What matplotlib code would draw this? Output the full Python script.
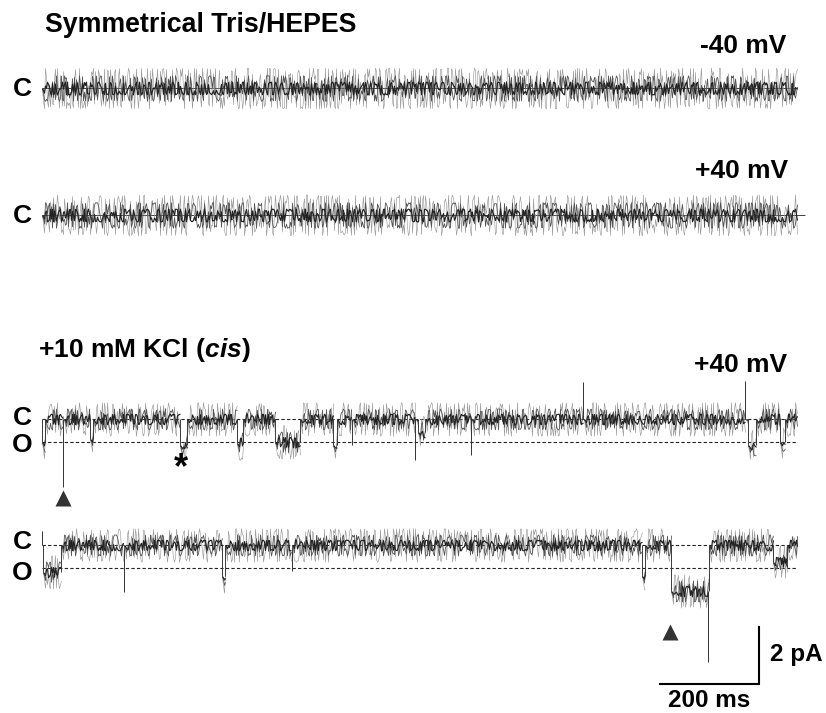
import matplotlib.pyplot as plt

plt.rcParams['font.family'] = ['Liberation Sans', 'DejaVu Sans']
plt.rcParams['font.weight'] = 'bold'
plt.rcParams['mathtext.fontset'] = 'custom'
plt.rcParams['mathtext.rm'] = 'Liberation Sans:bold'
plt.rcParams['mathtext.bfit'] = 'Liberation Sans:italic:bold'

# sweep length (ms), open level (pA below closed)
sweep_ms = 1525
open_pA = -0.82

# +10 mM KCl, first sweep: event start / end (ms) and level (pA, relative to C)
kcl1_start = [0, 42, 97, 279, 394, 471, 588, 625, 753, 760, 866, 1092, 1420, 1426, 1490]
kcl1_end = [6, 44, 103, 293, 406, 521, 596, 628, 755, 774, 868, 1094, 1422, 1442, 1501]
kcl1_level = [-0.8, -2.4, -0.7, -0.9, -0.85, -0.8, -0.9, -0.9, -1.45, -0.45, -1.25, 1.3, 1.35, -0.9, -0.8]

# +10 mM KCl, second sweep
kcl2_start = [0, 2, 164, 364, 504, 1212, 1271, 1345, 1477]
kcl2_end = [2, 38, 166, 370, 506, 1218, 1345, 1347, 1505]
kcl2_level = [0.5, -0.95, -1.65, -1.1, -0.9, -1.1, -1.6, -4.1, -0.6]

# scale bar
bar_ms = 200
bar_pA = 2

PX_MS = 0.495   # pixels per ms
PX_PA = 28.5    # pixels per pA
W, H = 826, 713

fig = plt.figure(figsize=(W / 100, H / 100), dpi=100)
ax = fig.add_axes([0, 0, 1, 1])
ax.set_xlim(-42 / PX_MS, (W - 42) / PX_MS)
ax.set_ylim(-H / PX_PA, 0)
ax.axis('off')


def X(px):
    return (px - 42) / PX_MS


def Y(py):
    return -py / PX_PA


# noise layers: wiggle size, line width, colour
layers = [(2.4, 0.45, '#9c9c9c'), (1.5, 0.6, '#555555'), (0.75, 0.85, '#222222')]


def noise(a, b, y, amp, k):
    for j, (sc, lw, col) in enumerate(layers):
        ln, = ax.plot([a, b], [y, y], color=col, lw=lw, solid_capstyle='butt')
        ln.set_sketch_params(sc * amp, 1.4 + 0.17 * (k % 7) + 0.45 * j, 7 + j + (k % 3))


def trace(y0, starts, ends, levels, amp, seed):
    pieces = []
    t = 0
    for s, e, lv in zip(starts, ends, levels):
        if s > t:
            pieces.append((t, s, 0))
        pieces.append((s, e, lv))
        t = e
    if t < sweep_ms:
        pieces.append((t, sweep_ms, 0))
    prev = 0
    for k, (a, b, lv) in enumerate(pieces):
        if b - a <= 3:
            ax.vlines(a + 1, y0 + prev, y0 + lv, color='#333333', lw=0.7)
            continue
        noise(a, b, y0 + lv, amp, k + seed)
        if lv != prev:
            ax.vlines(a, y0 + prev, y0 + lv, color='#3a3a3a', lw=0.7)
        prev = lv


dash = (0, (3, 2))
y1, y2, y3, y4 = Y(88), Y(215), Y(419), Y(545)

# symmetrical Tris/HEPES
for y0, sd, end in ((y1, 0, sweep_ms), (y2, 4, sweep_ms + 16)):
    ax.hlines(y0, 0, end, color='#222222', lw=0.6)
    trace(y0, [], [], [], 8.5, sd)

# +10 mM KCl
for y0, st, en, lv, sd in ((y3, kcl1_start, kcl1_end, kcl1_level, 1),
                           (y4, kcl2_start, kcl2_end, kcl2_level, 2)):
    ax.hlines([y0, y0 + open_pA], 0, sweep_ms, color='#222222', lw=0.8, linestyles=dash)
    trace(y0, st, en, lv, 7.0, sd)

# arrowheads and asterisk
ax.plot([X(63), X(670)], [Y(498), Y(632)], '^', color='#333333', ms=11, mec='none')
ax.text(X(181), Y(478), '*', fontsize=26, ha='center', va='baseline')

# scale bar
bx, by = X(759), Y(684)
ax.plot([bx - bar_ms, bx, bx], [by, by, by + bar_pA], color='k', lw=1.5, solid_joinstyle='miter')
ax.text(bx + 11 / PX_MS, Y(661), f'{bar_pA} pA', fontsize=17.5, va='baseline')
ax.text(bx - bar_ms / 2, Y(707), f'{bar_ms} ms', fontsize=17.5, ha='center', va='baseline')

# labels
fs = 19
ax.text(X(45), Y(32), 'Symmetrical Tris/HEPES', fontsize=19.3, va='baseline')
ax.text(X(786), Y(53), '-40 mV', fontsize=fs, ha='right', va='baseline')
ax.text(X(788), Y(178), '+40 mV', fontsize=fs, ha='right', va='baseline')
ax.text(X(38), Y(357), r'+10 mM KCl ($\mathbfit{cis}$)', fontsize=fs, va='baseline')
ax.text(X(787), Y(372), '+40 mV', fontsize=fs, ha='right', va='baseline')
for yc, lab in ((89, 'C'), (216, 'C'), (418, 'C'), (445, 'O'), (542, 'C'), (573, 'O')):
    ax.text(X(22), Y(yc), lab, fontsize=fs, ha='center', va='center')

fig.savefig('out.png', dpi=100)
